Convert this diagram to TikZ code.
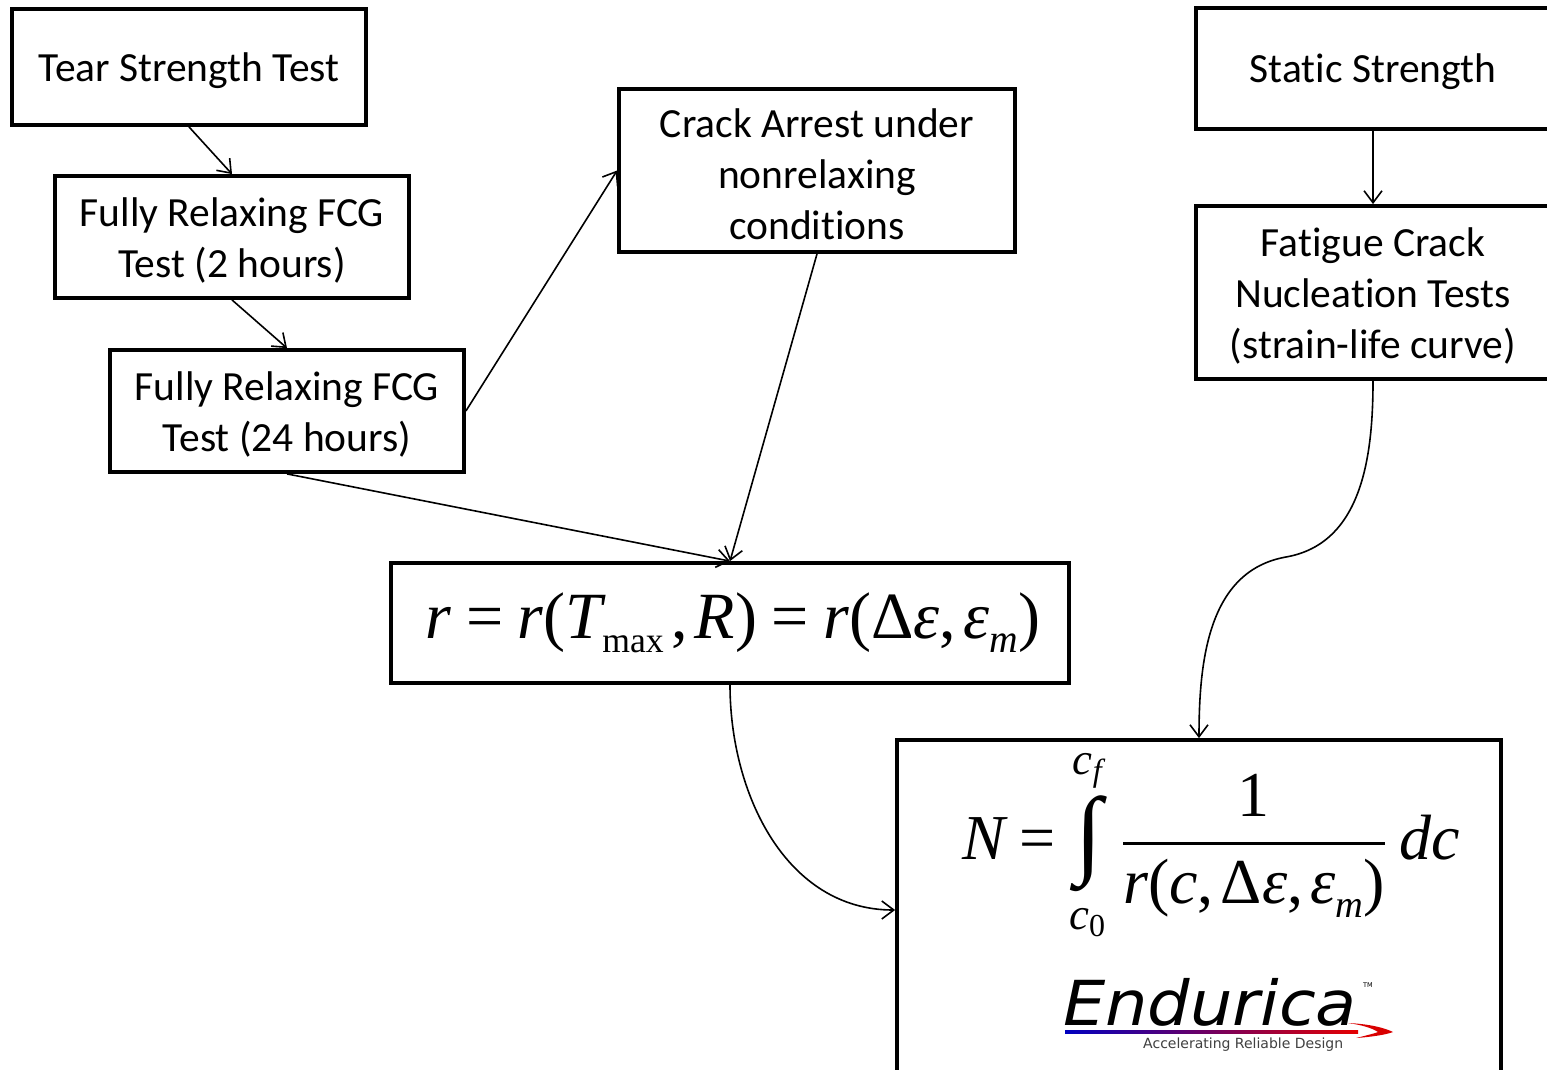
\documentclass[tikz,border=0pt]{standalone}
\usepackage{fontspec}
\usepackage{amsmath}
\usepackage{graphicx}
\usetikzlibrary{arrows.meta}
\newfontfamily\carl[Ligatures=NoCommon]{Carlito}
\newfontfamily\tms{Liberation Serif}
\newfontfamily\dejavu{DejaVu Sans}
\newcommand\tmi[1]{\text{\tms\itshape #1}}
\newcommand\tmu[1]{\text{\tms\upshape #1}}
\newcommand\teq{\mathrel{\tmu{=}}}
\newcommand\tcm{\mathpunct{\tmu{,}}}
\newcommand\sbu[1]{\text{\raisebox{-2.2pt}{\tms\fontsize{5.4}{5.4}\selectfont #1}}}
\newcommand\sbi[1]{\text{\raisebox{-2.2pt}{\tms\itshape\fontsize{6}{6}\selectfont #1}}}
\newcommand\bx[5]{\node[blk, minimum width=#3, minimum height=#4] (#1) at #2 {};
  \node[txt] (#1-t) at ([yshift=-3.5pt]#1.center) {#5};}
\begin{document}
\begin{tikzpicture}[x=1pt,y=-1pt,
  blk/.style={draw, line width=3.8pt, inner sep=0pt},
  txt/.style={inner sep=0pt, align=center, font=\carl\fontsize{41.5}{51}\selectfont},
  arr/.style={line width=1.6pt, -{Straight Barb[length=12pt,width=18pt]}}]
\useasboundingbox (0,0) rectangle (1547,1069);
\fill[white] (0,0) rectangle (1547,1069);

\bx{tear}{(189,67)}{354pt}{116pt}{Tear Strength Test}
\bx{fr2}{(232,237)}{354pt}{122pt}{Fully Relaxing FCG\\Test (2 hours)}
\bx{fr24}{(287,411)}{354pt}{122pt}{Fully Relaxing FCG\\Test (24 hours)}
\bx{crack}{(817,170.5)}{396pt}{163pt}{Crack Arrest under\\nonrelaxing\\conditions}
\bx{static}{(1373,68.5)}{354pt}{121pt}{Static Strength}
\bx{fat}{(1373,292.5)}{354pt}{173pt}{Fatigue Crack\\Nucleation Tests\\(strain-life curve)}
\node[blk, minimum width=678pt, minimum height=120pt] (rbox) at (730,623) {};
\node[blk, minimum width=604pt, minimum height=340pt] (nbox) at (1199,910) {};

\node[inner sep=0pt] (rform) at (733,623) {\scalebox{6.6}{$\thickmuskip=4mu\thinmuskip=2mu
  \tmi{r}\teq\tmi{r}\tmu{(}\tmi{T}\sbu{max}\,\tcm\tmi{R}\tmu{)}\teq\tmi{r}\tmu{(}\tmu{Δ}\tmi{ε}\tcm\tmi{ε}\sbi{m}\tmu{)}$}};

\node[inner sep=0pt] (nform) at (1211,845) {\scalebox{6.4}{$\displaystyle\thickmuskip=4mu\thinmuskip=2mu
  \tmi{N}\teq\mathop{\vcenter{\hbox{\resizebox*{!}{1.5em}{\tms ∫}}}}\limits_{\tmi{c}_{\tmu{0}}}^{\tmi{c}_{\tmi{f}}}
  \frac{\tmu{1}}{\tmi{r}\tmu{(}\tmi{c}\tcm\tmu{Δ}\tmi{ε}\tcm\tmi{ε}\sbi{m}\tmu{)}}\,\tmi{dc}$}};

% logo
\node[inner sep=0pt, anchor=base west,
  font=\dejavu\itshape\fontsize{62}{62}\selectfont] (endu) at (1063,1025) {\scalebox{1.08}[1]{Endurica}};
\shade[left color=blue!75!black, right color=red!90!black] (1065,1030.5) rectangle (1358,1033.5);
\fill[red!85!black] (1348,1023) .. controls (1370,1024) and (1385,1028) .. (1393,1032)
  .. controls (1385,1035) and (1370,1037) .. (1356,1038)
  .. controls (1368,1035) and (1376,1033) .. (1378,1032)
  .. controls (1372,1028) and (1362,1025) .. (1348,1023) -- cycle;
\node[inner sep=0pt, font=\dejavu\fontsize{6.5}{6.5}\selectfont] (tm) at (1368,985) {TM};
\node[inner sep=0pt, anchor=base west, text=black!75, font=\dejavu\fontsize{14}{14}\selectfont] (tag) at (1143,1048) {Accelerating Reliable Design};

% connectors
\draw[arr] (tear.south) -- (fr2.north);
\draw[arr] (fr2.south) -- (fr24.north);
\draw[arr] (fr24.east) -- (crack.west);
\draw[arr] (fr24.south) -- (rbox.north);
\draw[arr] (crack.south) -- (rbox.north);
\draw[arr] (static.south) -- (fat.north);
\coordinate (bend) at (1286,557);
\draw[arr] (fat.south) to[out=-90,in=10] (bend) to[out=190,in=90] (nbox.north);
\draw[arr] (rbox.south) to[out=-90,in=180] (nbox.west);
\end{tikzpicture}
\end{document}
